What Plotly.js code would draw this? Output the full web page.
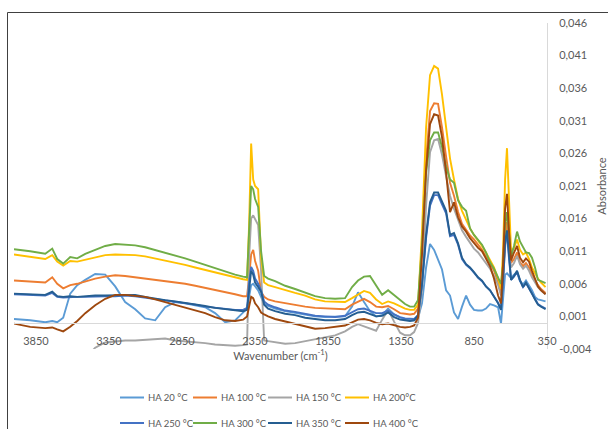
<!DOCTYPE html>
<html>
<head>
<meta charset="utf-8">
<script src="https://cdn.plot.ly/plotly-3.0.1.min.js"></script>
<style>
  html, body { margin: 0; padding: 0; background: #fff; }
  #chart { width: 608px; height: 429px; }
</style>
</head>
<body>
<div id="chart"></div>
<script>
// FTIR spectra of HA samples heat-treated at different temperatures
const wavenumber = [4000,3889,3786,3738,3704,3663,3615,3567,3512,3444,3375,3307,3239,3170,3102,3033,2965,2896,2828,2759,2691,2623,2554,2486,2431,2404,2390,2376,2362,2349,2328,2308,2287,2260,2212,2143,2075,2006,1938,1870,1801,1733,1685,1644,1603,1562,1520,1479,1438,1397,1356,1322,1288,1260,1233,1206,1178,1151,1123,1096,1069,1041,1014,987,959,932,904,877,850,822,795,768,740,713,685,665,651,637,624,610,596,576,555,535,514,494,473,453,432,412,391,371,360];

const ha20 = [0.0006,0.0004,0.0001,0.0003,0.0001,0.0008,0.0045,0.0058,0.0066,0.0075,
  0.0074,0.0056,0.0032,0.0021,0.0007,0.0004,0.0024,0.0032,0.0030,0.0027,
  0.0024,0.0015,0.0001,0.0004,0.0016,0.0022,0.0040,0.0058,0.0060,0.0056,
  0.0050,0.0040,0.0029,0.0026,0.0022,0.0018,0.0015,0.0012,0.0010,0.0009,
  0.0009,0.0010,0.0025,0.0047,0.0032,0.0018,0.0010,0.0012,0.0022,0.0013,
  0.0008,0.0005,0.0004,0.0004,0.0008,0.0030,0.0085,0.0121,0.0112,0.0098,
  0.0082,0.0050,0.0042,0.0016,0.0006,0.0025,0.0042,0.0028,0.0020,0.0019,
  0.0019,0.0022,0.0029,0.0027,0.0024,-0.0001,0.0035,0.0074,0.0076,0.0072,
  0.0069,0.0074,0.0078,0.0064,0.0059,0.0065,0.0058,0.0050,0.0040,0.0036,
  0.0035,0.0034,0.0033];

const ha100 = [0.0065,0.0063,0.0062,0.0070,0.0060,0.0053,0.0058,0.0060,0.0064,0.0068,
  0.0071,0.0073,0.0072,0.0070,0.0069,0.0067,0.0065,0.0062,0.0060,0.0057,
  0.0054,0.0050,0.0047,0.0044,0.0041,0.0041,0.0070,0.0105,0.0112,0.0095,
  0.0080,0.0048,0.0040,0.0036,0.0033,0.0030,0.0028,0.0025,0.0023,0.0022,
  0.0021,0.0021,0.0028,0.0033,0.0037,0.0032,0.0025,0.0024,0.0026,0.0021,
  0.0015,0.0014,0.0013,0.0014,0.0022,0.0115,0.0250,0.0325,0.0337,0.0336,
  0.0300,0.0255,0.0215,0.0195,0.0170,0.0152,0.0143,0.0134,0.0128,0.0120,
  0.0112,0.0102,0.0092,0.0080,0.0063,0.0045,0.0070,0.0130,0.0155,0.0120,
  0.0092,0.0098,0.0108,0.0093,0.0087,0.0092,0.0085,0.0074,0.0065,0.0058,
  0.0052,0.0048,0.0046];

const ha150 = [-0.0060,-0.0060,-0.0060,-0.0060,-0.0060,-0.0060,-0.0060,-0.0060,-0.0055,-0.0038,
  -0.0030,-0.0028,-0.0027,-0.0027,-0.0026,-0.0026,-0.0024,-0.0027,-0.0028,-0.0030,
  -0.0031,-0.0033,-0.0034,-0.0035,-0.0034,-0.0033,0.0100,0.0160,0.0165,0.0160,
  0.0150,0.0080,-0.0027,-0.0028,-0.0030,-0.0032,-0.0031,-0.0028,-0.0026,-0.0023,
  -0.0019,-0.0013,-0.0006,-0.0002,-0.0005,-0.0008,-0.0012,0.0005,0.0020,0.0002,
  -0.0015,-0.0019,-0.0019,-0.0014,0.0000,0.0050,0.0180,0.0262,0.0280,0.0282,
  0.0258,0.0225,0.0195,0.0175,0.0158,0.0142,0.0132,0.0122,0.0114,0.0108,
  0.0100,0.0092,0.0083,0.0072,0.0058,0.0042,0.0065,0.0115,0.0140,0.0110,
  0.0085,0.0092,0.0103,0.0090,0.0083,0.0088,0.0080,0.0070,0.0062,0.0055,
  0.0050,0.0046,0.0044];

const ha200 = [0.0105,0.0101,0.0098,0.0104,0.0094,0.0088,0.0095,0.0094,0.0097,0.0100,
  0.0104,0.0105,0.0105,0.0104,0.0102,0.0099,0.0096,0.0093,0.0089,0.0085,
  0.0081,0.0077,0.0073,0.0070,0.0067,0.0066,0.0150,0.0275,0.0220,0.0210,
  0.0205,0.0100,0.0062,0.0058,0.0055,0.0050,0.0046,0.0042,0.0036,0.0033,
  0.0032,0.0032,0.0038,0.0043,0.0049,0.0046,0.0036,0.0029,0.0033,0.0030,
  0.0026,0.0022,0.0020,0.0020,0.0028,0.0140,0.0300,0.0380,0.0394,0.0390,
  0.0350,0.0300,0.0252,0.0220,0.0190,0.0172,0.0158,0.0145,0.0135,0.0127,
  0.0118,0.0108,0.0097,0.0085,0.0068,0.0052,0.0110,0.0220,0.0268,0.0190,
  0.0110,0.0115,0.0128,0.0112,0.0105,0.0108,0.0098,0.0085,0.0076,0.0068,
  0.0062,0.0057,0.0055];

const ha250 = [0.0044,0.0043,0.0042,0.0046,0.0040,0.0039,0.0040,0.0040,0.0040,0.0041,
  0.0041,0.0041,0.0042,0.0041,0.0039,0.0036,0.0034,0.0032,0.0030,0.0028,
  0.0025,0.0023,0.0021,0.0020,0.0020,0.0023,0.0062,0.0086,0.0080,0.0068,
  0.0060,0.0050,0.0033,0.0028,0.0024,0.0019,0.0017,0.0014,0.0011,0.0010,
  0.0009,0.0011,0.0016,0.0021,0.0022,0.0018,0.0015,0.0015,0.0019,0.0013,
  0.0009,0.0007,0.0006,0.0006,0.0012,0.0058,0.0130,0.0180,0.0196,0.0196,
  0.0182,0.0168,0.0133,0.0135,0.0120,0.0098,0.0089,0.0084,0.0077,0.0069,
  0.0064,0.0056,0.0050,0.0041,0.0031,0.0021,0.0062,0.0120,0.0138,0.0098,
  0.0066,0.0071,0.0078,0.0065,0.0055,0.0061,0.0053,0.0045,0.0037,0.0029,
  0.0026,0.0023,0.0022];

const ha300 = [0.0113,0.0110,0.0106,0.0114,0.0098,0.0091,0.0101,0.0099,0.0106,0.0112,
  0.0118,0.0121,0.0120,0.0119,0.0116,0.0112,0.0107,0.0103,0.0099,0.0094,
  0.0089,0.0083,0.0078,0.0074,0.0071,0.0070,0.0140,0.0210,0.0205,0.0190,
  0.0178,0.0110,0.0072,0.0068,0.0064,0.0057,0.0052,0.0046,0.0041,0.0038,
  0.0037,0.0038,0.0055,0.0065,0.0071,0.0072,0.0057,0.0043,0.0050,0.0043,
  0.0035,0.0029,0.0025,0.0025,0.0035,0.0120,0.0230,0.0280,0.0292,0.0292,
  0.0270,0.0240,0.0220,0.0215,0.0188,0.0178,0.0172,0.0145,0.0135,0.0127,
  0.0120,0.0108,0.0093,0.0083,0.0070,0.0060,0.0090,0.0150,0.0170,0.0130,
  0.0101,0.0118,0.0140,0.0125,0.0115,0.0108,0.0107,0.0100,0.0085,0.0066,
  0.0064,0.0062,0.0061];

const ha350 = [0.0045,0.0044,0.0043,0.0048,0.0041,0.0040,0.0041,0.0040,0.0041,0.0042,
  0.0042,0.0042,0.0043,0.0043,0.0040,0.0037,0.0035,0.0033,0.0031,0.0028,
  0.0026,0.0023,0.0021,0.0019,0.0018,0.0020,0.0055,0.0080,0.0074,0.0062,
  0.0055,0.0048,0.0028,0.0022,0.0018,0.0014,0.0012,0.0008,0.0006,0.0004,
  0.0004,0.0006,0.0012,0.0016,0.0017,0.0013,0.0010,0.0011,0.0016,0.0009,
  0.0005,0.0004,0.0003,0.0004,0.0012,0.0060,0.0135,0.0185,0.0200,0.0200,
  0.0185,0.0172,0.0135,0.0138,0.0122,0.0100,0.0090,0.0085,0.0078,0.0070,
  0.0065,0.0056,0.0050,0.0040,0.0030,0.0020,0.0065,0.0125,0.0142,0.0100,
  0.0066,0.0072,0.0080,0.0066,0.0055,0.0062,0.0054,0.0045,0.0036,0.0028,
  0.0025,0.0022,0.0021];

const ha400 = [-0.0001,-0.0006,-0.0008,-0.0007,-0.0010,-0.0013,-0.0006,0.0003,0.0015,0.0027,
  0.0037,0.0043,0.0043,0.0042,0.0040,0.0036,0.0032,0.0028,0.0024,0.0019,
  0.0015,0.0009,0.0004,0.0003,0.0005,0.0010,0.0028,0.0040,0.0038,0.0030,
  0.0024,0.0016,0.0013,0.0010,0.0006,0.0002,-0.0002,-0.0006,-0.0009,-0.0008,
  -0.0006,-0.0004,0.0001,0.0005,0.0006,0.0004,0.0000,-0.0002,-0.0001,-0.0004,
  -0.0006,-0.0007,-0.0006,-0.0004,0.0008,0.0105,0.0235,0.0305,0.0320,0.0318,
  0.0285,0.0230,0.0170,0.0185,0.0162,0.0148,0.0140,0.0130,0.0122,0.0115,
  0.0110,0.0098,0.0087,0.0068,0.0042,0.0030,0.0090,0.0175,0.0198,0.0140,
  0.0096,0.0108,0.0118,0.0100,0.0093,0.0099,0.0094,0.0080,0.0068,0.0056,
  0.0050,0.0046,0.0044];

const seriesNames = ['HA 20 °C', 'HA 100 °C', 'HA 150 °C', 'HA 200°C',
                     'HA 250 °C', 'HA 300 °C', 'HA 350 °C', 'HA 400 °C'];
const seriesValues = [ha20, ha100, ha150, ha200, ha250, ha300, ha350, ha400];
const seriesColors = ['#5B9BD5', '#ED7D31', '#A5A5A5', '#FFC000',
                      '#4472C4', '#70AD47', '#255E91', '#9E480E'];

const xTickVals = [3850, 3350, 2850, 2350, 1850, 1350, 850, 350];
const xTickText = ['3850', '3350', '2850', '2350', '1850', '1350', '850', '350'];
const yTickVals = [-0.004, 0.001, 0.006, 0.011, 0.016, 0.021, 0.026, 0.031, 0.036, 0.041, 0.046];
const yTickText = ['-0,004', '0,001', '0,006', '0,011', '0,016', '0,021', '0,026', '0,031', '0,036', '0,041', '0,046'];

// page geometry (px) and helpers to place items in paper coordinates
const W = 608, H = 429;
const M = { l: 14, r: 61, t: 23, b: 80 };
const plotW = W - M.l - M.r, plotH = H - M.t - M.b;
const px2x = px => (px - M.l) / plotW;
const py2y = py => (H - M.b - py) / plotH;

const traces = seriesValues.map((vals, i) => ({
  type: 'scatter',
  mode: 'lines',
  x: wavenumber,
  y: vals,
  name: seriesNames[i],
  line: { color: seriesColors[i], width: 1.9 },
  showlegend: false,
  hoverinfo: 'skip'
}));

// legend: two rows of four entries below the axis title
const legendCols = [120, 193, 268, 345];
const legendRows = [397.5, 423];
const legendShapes = [];
const legendNotes = [];
seriesNames.forEach((name, i) => {
  const lx = legendCols[i % 4];
  const ly = legendRows[Math.floor(i / 4)];
  legendShapes.push({
    type: 'line', xref: 'paper', yref: 'paper',
    x0: px2x(lx), x1: px2x(lx + 24), y0: py2y(ly), y1: py2y(ly),
    line: { color: seriesColors[i], width: 2 }
  });
  legendNotes.push({
    xref: 'paper', yref: 'paper', x: px2x(lx + 26), y: py2y(ly),
    xanchor: 'left', yanchor: 'middle', showarrow: false,
    text: name,
    font: { family: 'Lato, sans-serif', size: 9.5, color: '#595959' }
  });
});

const layout = {
  width: W,
  height: H,
  margin: M,
  paper_bgcolor: '#ffffff',
  plot_bgcolor: '#ffffff',
  font: { family: 'Lato, sans-serif', size: 11, color: '#595959' },
  showlegend: false,
  xaxis: {
    range: [4000, 350],
    anchor: 'free',
    position: 0.08,
    tickmode: 'array',
    tickvals: xTickVals,
    ticktext: xTickText,
    ticks: '',
    ticklabelstandoff: 8,
    showgrid: false,
    zeroline: false,
    showline: true,
    linecolor: '#D9D9D9',
    linewidth: 1,
    tickfont: { size: 11, color: '#595959' },
    title: { text: 'Wavenumber (cm<sup>-1</sup>)', font: { size: 11, color: '#595959' }, standoff: 5 }
  },
  yaxis: {
    range: [-0.004, 0.046],
    side: 'right',
    tickmode: 'array',
    tickvals: yTickVals,
    ticktext: yTickText,
    ticks: '',
    ticklabelstandoff: 9,
    showgrid: false,
    zeroline: false,
    showline: true,
    linecolor: '#D9D9D9',
    linewidth: 1,
    tickfont: { size: 11, color: '#595959' },
    title: { text: 'Absorbance', font: { size: 11, color: '#595959' }, standoff: 10 }
  },
  annotations: legendNotes,
  shapes: [{
    type: 'rect', xref: 'paper', yref: 'paper',
    x0: px2x(7.5), x1: px2x(640), y0: py2y(440), y1: py2y(12.5),
    line: { color: '#404040', width: 1 },
    fillcolor: 'rgba(0,0,0,0)'
  }].concat(legendShapes)
};

Plotly.newPlot('chart', traces, layout, { displayModeBar: false, staticPlot: true });
</script>
</body>
</html>
